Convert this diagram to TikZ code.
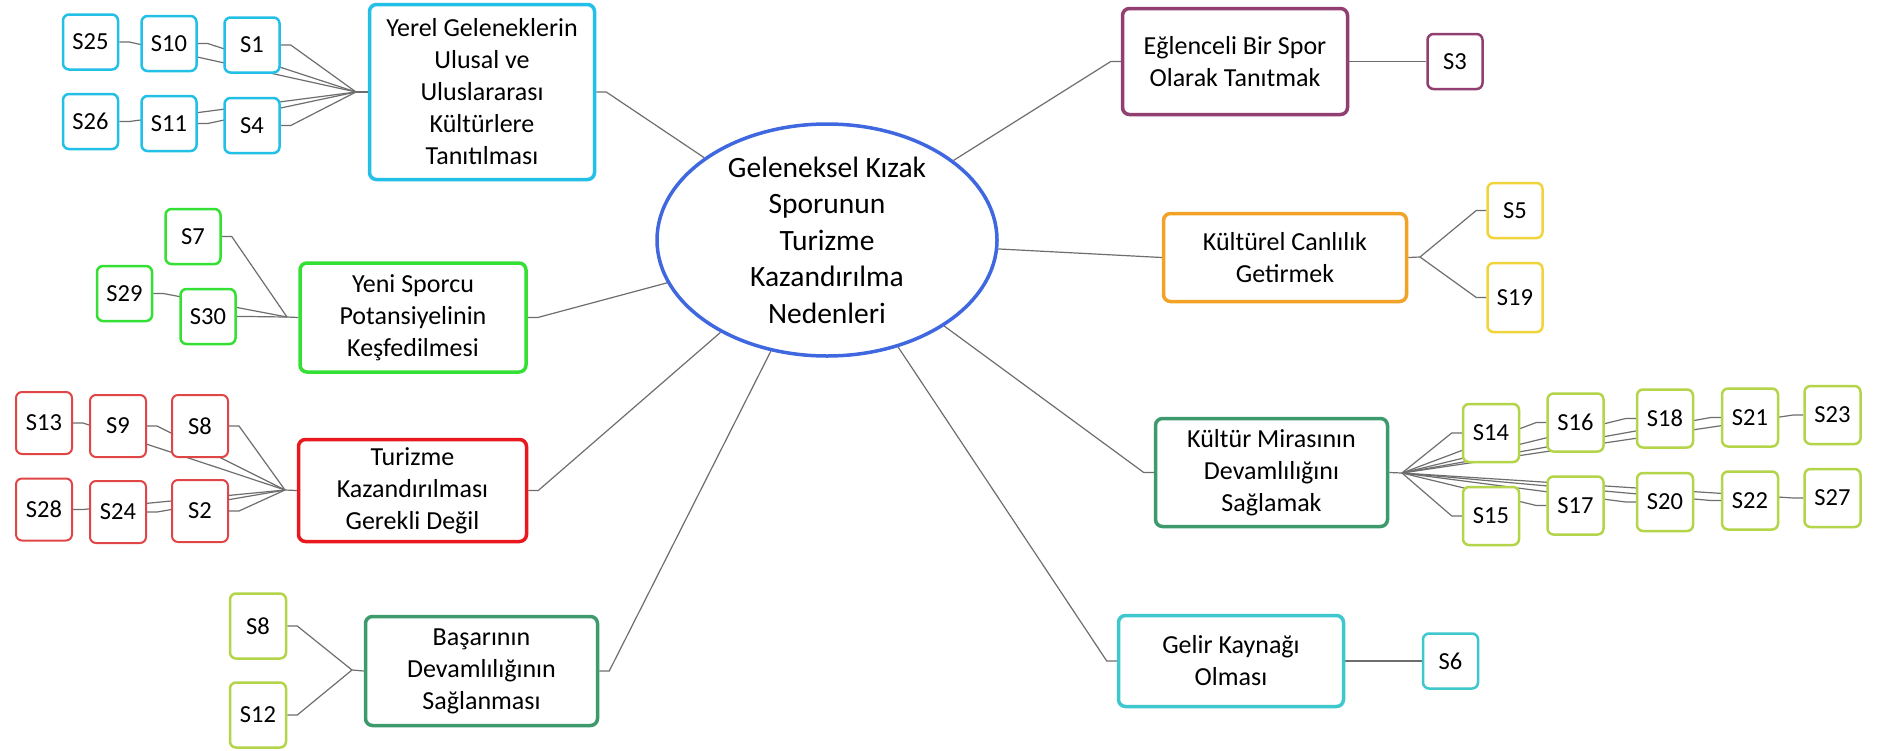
\documentclass[tikz,border=0pt]{standalone}
\usepackage{fontspec}
\setmainfont{Carlito}
\usetikzlibrary{shapes.geometric,backgrounds}
\definecolor{cyanY}{HTML}{22BFE6}
\definecolor{blueC}{HTML}{3F67E0}
\definecolor{greenY}{HTML}{33E033}
\definecolor{redT}{HTML}{E8181E}
\definecolor{redL}{HTML}{E04646}
\definecolor{dgreen}{HTML}{3D9A6C}
\definecolor{lime}{HTML}{B4D44A}
\definecolor{plum}{HTML}{913E70}
\definecolor{orangeK}{HTML}{F2A227}
\definecolor{yellowK}{HTML}{F0D43C}
\definecolor{tealG}{HTML}{3EC7CC}
\definecolor{connc}{HTML}{6E6E6E}
\begin{document}
\begin{tikzpicture}[x=1pt,y=-1pt,
  branch/.style={draw, line width=3.5pt, rounded corners=7pt, fill=white, align=center, inner sep=2pt, font=\fontsize{26}{32}\selectfont},
  leaf/.style={draw, line width=2.5pt, rounded corners=6pt, fill=white, align=center, inner sep=1pt, minimum width=55pt, minimum height=55pt, font=\fontsize{24.5}{28}\selectfont},
  conn/.style={draw=connc, line width=1.2pt},
]
\useasboundingbox (0,0) rectangle (1879,750);

% centre
\node[draw=blueC, line width=3.5pt, ellipse, fill=white, minimum width=340pt, minimum height=232pt, inner sep=0pt] (ctr) at (827,240) {};
\node[align=center, font=\fontsize{29.5}{36.5}\selectfont] (ctrtxt) at (827,240) {Geleneksel Kızak\\Sporunun\\Turizme\\Kazandırılma\\Nedenleri};

% branches
\node[branch, draw=cyanY, minimum width=225pt, minimum height=175pt] (yerel) at (482,92) {Yerel Geleneklerin\\Ulusal ve\\Uluslararası\\Kültürlere\\Tanıtılması};
\node[branch, draw=greenY, minimum width=226pt, minimum height=109pt] (yeni) at (413,317.5) {Yeni Sporcu\\Potansiyelinin\\Keşfedilmesi};
\node[branch, draw=redT, minimum width=228pt, minimum height=102pt] (turizm) at (412.5,490.5) {Turizme\\Kazandırılması\\Gerekli Değil};
\node[branch, draw=dgreen, minimum width=232pt, minimum height=109pt] (basari) at (481.5,671) {Başarının\\Devamlılığının\\Sağlanması};
\node[branch, draw=plum, minimum width=225pt, minimum height=106pt] (eglen) at (1235,61.5) {Eğlenceli Bir Spor\\Olarak Tanıtmak};
\node[branch, draw=orangeK, minimum width=243pt, minimum height=88pt] (kultur) at (1285,257.5) {Kültürel Canlılık\\Getirmek};
\node[branch, draw=dgreen, minimum width=232pt, minimum height=108pt] (miras) at (1271.5,472.5) {Kültür Mirasının\\Devamlılığını\\Sağlamak};
\node[branch, draw=tealG, minimum width=225pt, minimum height=91pt] (gelir) at (1231,661) {Gelir Kaynağı\\Olması};

% hubs
\coordinate (hY) at (356,92);
\coordinate (hN) at (287,317);
\coordinate (hT) at (285,490);
\coordinate (hB) at (352,670);
\coordinate (hK) at (1420,257);
\coordinate (hM) at (1402,473);

% cyan leaves
\begin{scope}[every node/.style={leaf, draw=cyanY}]
\node (s25) at (90.5,42) {S25};
\node (s10) at (169,43.5) {S10};
\node (s1) at (252,45) {S1};
\node (s26) at (90.5,121.5) {S26};
\node (s11) at (169,123.5) {S11};
\node (s4) at (252,125.5) {S4};
\end{scope}
% green leaves
\begin{scope}[every node/.style={leaf, draw=greenY}]
\node (s7) at (193,236.5) {S7};
\node (s29) at (124.5,293.5) {S29};
\node (s30) at (208,316.5) {S30};
\end{scope}
% red leaves
\begin{scope}[every node/.style={leaf, draw=redL, line width=2pt, minimum width=56pt, minimum height=62pt}]
\node (s13) at (44,423) {S13};
\node (s9) at (118,426) {S9};
\node (s8) at (200,426) {S8};
\node (s28) at (44,509.5) {S28};
\node (s24) at (118,512) {S24};
\node (s2) at (200,511) {S2};
\end{scope}
% lime leaves of Basari
\begin{scope}[every node/.style={leaf, draw=lime, minimum width=56pt, minimum height=65pt}]
\node (s8b) at (258,626) {S8};
\node (s12) at (258,715) {S12};
\end{scope}
% right leaves
\node[leaf, draw=plum] (s3) at (1455,61.5) {S3};
\node[leaf, draw=yellowK] (s5) at (1515,210.5) {S5};
\node[leaf, draw=yellowK, minimum height=69pt] (s19) at (1515,297.5) {S19};
\node[leaf, draw=tealG] (s6) at (1450.5,661) {S6};
\begin{scope}[every node/.style={leaf, draw=lime, minimum width=56pt, minimum height=58pt}]
\node (s14) at (1491,433) {S14};
\node (s16) at (1575.5,422.5) {S16};
\node (s18) at (1665,418.5) {S18};
\node (s21) at (1750,417.5) {S21};
\node (s23) at (1832.5,415) {S23};
\node (s15) at (1491,516) {S15};
\node (s17) at (1575.5,505.5) {S17};
\node (s20) at (1665,502) {S20};
\node (s22) at (1750,500.5) {S22};
\node (s27) at (1832.5,498) {S27};
\end{scope}

\begin{pgfonlayer}{background}
\fill[white] (0,0) rectangle (1879,750);
% centre to branches
\draw[conn] (yerel.east) -- ++(10,0) -- (ctr);
\draw[conn] (yeni.east) -- ++(10,0) -- (ctr);
\draw[conn] (turizm.east) -- ++(10,0) -- (ctr);
\draw[conn] (basari.east) -- ++(10,0) -- (ctr);
\draw[conn] (eglen.west) -- ++(-10,0) -- (ctr);
\draw[conn] (kultur.west) -- (ctr);
\draw[conn] (miras.west) -- ++(-10,0) -- (ctr);
\draw[conn] (gelir.west) -- ++(-10,0) -- (ctr);
% Yerel
\draw[conn] (yerel.west) -- (hY);
\foreach \n in {s1,s10,s25,s4,s11,s26}
  \draw[conn] (\n.east) -- ++(10,0) -- (hY);
% Yeni
\draw[conn] (yeni.west) -- (hN);
\foreach \n in {s7,s30,s29}
  \draw[conn] (\n.east) -- ++(10,0) -- (hN);
% Turizme
\draw[conn] (turizm.west) -- (hT);
\foreach \n in {s8,s9,s13,s2,s24,s28}
  \draw[conn] (\n.east) -- ++(10,0) -- (hT);
% Basari
\draw[conn] (basari.west) -- (hB);
\foreach \n in {s8b,s12}
  \draw[conn] (\n.east) -- ++(10,0) -- (hB);
% Eglenceli, Gelir
\draw[conn] (eglen.east) -- (s3.west);
\draw[conn] (gelir.east) -- (s6.west);
% Kulturel
\draw[conn] (kultur.east) -- (hK);
\foreach \n in {s5,s19}
  \draw[conn] (\n.west) -- ++(-10,0) -- (hK);
% Miras
\draw[conn] (miras.east) -- (hM);
\foreach \n in {s14,s16,s18,s21,s23,s15,s17,s20,s22,s27}
  \draw[conn] (\n.west) -- ++(-10,0) -- (hM);
\end{pgfonlayer}
\end{tikzpicture}
\end{document}
